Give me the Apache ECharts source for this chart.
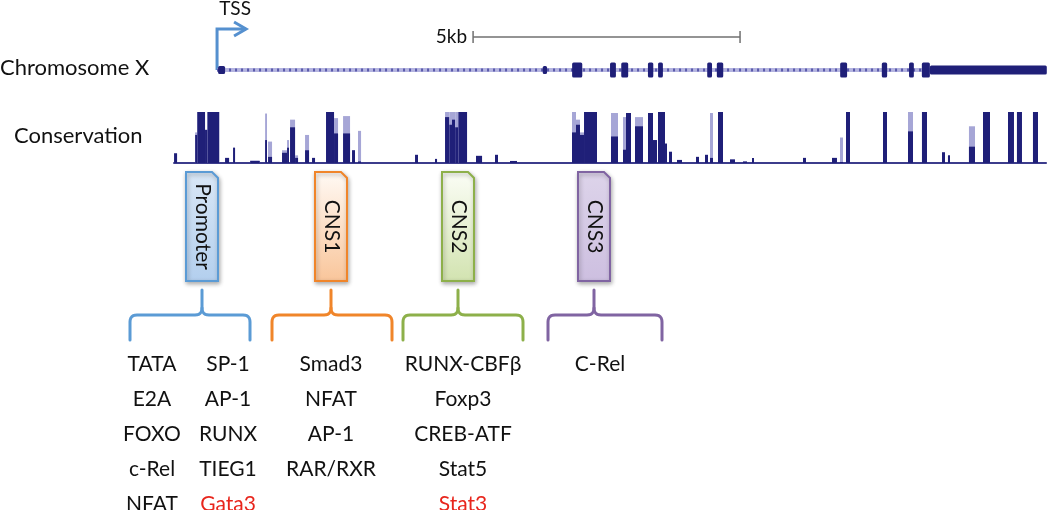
<!DOCTYPE html>
<html><head><meta charset="utf-8">
<script src="https://cdn.jsdelivr.net/npm/echarts@6/dist/echarts.min.js"></script>
<style>html,body{margin:0;padding:0;background:#fff}#c{width:1050px;height:510px}</style>
</head><body><div id="c"></div>
<script>
// ---------- DATA (genomic positions in kb relative to the TSS) ----------
const axisRangeKb = [-0.9, 15.6];
const tssKb = 0;
const tssLabel = 'TSS';
const scaleBarKb = [4.795, 9.795];
const scaleBarLabel = '5kb';
const trackLabels = ['Chromosome X', 'Conservation'];
const intronSpanKb = [0, 13.35];
// exons: [startKb, endKb, kind]
const exons = [
  [0.02, 0.15, 'nc'], [6.10, 6.18, 'nc'], [6.65, 6.84, 'cds'], [7.36, 7.47, 'cds'],
  [7.57, 7.70, 'cds'], [8.07, 8.17, 'cds'], [8.26, 8.35, 'cds'], [9.18, 9.27, 'cds'],
  [9.36, 9.48, 'cds'], [11.67, 11.80, 'cds'], [12.45, 12.55, 'cds'], [12.96, 13.05, 'cds'],
  [13.20, 13.35, 'cds'], [13.35, 15.54, 'utr']
];
// conservation: [startKb, endKb, meanScore, maxScore]
const conservationSpanKb = [-0.82, 15.54];
const conservation = [
  [-0.805, -0.749, 0.19, 0.19], [-0.41, -0.37, 0.55, 0.6], [-0.37, -0.225, 1, 1],
  [-0.225, -0.18, 0.65, 0.65], [-0.18, 0.04, 1, 1], [0.15, 0.225, 0.1, 0.1],
  [0.30, 0.337, 0.3, 0.3], [0.62, 0.80, 0.04, 0.05], [0.90, 0.936, 0.45, 0.97],
  [0.955, 1.03, 0.12, 0.42], [1.217, 1.311, 0.2, 0.25], [1.311, 1.348, 0.3, 0.45],
  [1.367, 1.461, 0.7, 0.85], [1.461, 1.517, 0.1, 0.15], [1.648, 1.723, 0.25, 0.55],
  [1.779, 1.835, 0.1, 0.1], [2.041, 2.191, 1, 1], [2.191, 2.266, 0.58, 0.88],
  [2.36, 2.491, 0.58, 0.92], [2.528, 2.584, 0.25, 0.25], [2.64, 2.697, 0.03, 0.63],
  [3.708, 3.764, 0.16, 0.16], [4.082, 4.12, 0.08, 0.08],
  [4.27, 4.35, 0.9, 1], [4.35, 4.40, 0.75, 1], [4.40, 4.46, 0.85, 1], [4.46, 4.52, 0.7, 1], [4.52, 4.682, 1, 1],
  [4.85, 4.963, 0.14, 0.14], [5.206, 5.262, 0.16, 0.16], [5.487, 5.618, 0.04, 0.04],
  [6.648, 6.723, 0.6, 1], [6.723, 6.798, 0.75, 0.85], [6.798, 6.873, 0.55, 0.6], [6.873, 7.116, 1, 1],
  [7.378, 7.509, 0.52, 0.98], [7.603, 7.659, 0.26, 0.9], [7.659, 7.753, 0.98, 0.98],
  [7.828, 7.978, 0.72, 0.9], [8.071, 8.165, 0.98, 0.98], [8.165, 8.240, 0.45, 0.45],
  [8.258, 8.390, 1, 1], [8.390, 8.427, 0.38, 0.38], [8.464, 8.521, 0.22, 0.22],
  [8.614, 8.708, 0.06, 0.06], [8.970, 9.026, 0.12, 0.12], [9.139, 9.195, 0.16, 0.16],
  [9.232, 9.288, 0.1, 0.98], [9.382, 9.476, 1, 1], [9.607, 9.700, 0.07, 0.07],
  [9.850, 9.925, 0.03, 0.03], [10.019, 10.056, 0.1, 0.1], [10.974, 11.030, 0.1, 0.1],
  [11.517, 11.610, 0.1, 0.1], [11.667, 11.723, 0.02, 0.5], [11.779, 11.854, 1, 1],
  [12.472, 12.547, 1, 1], [12.940, 13.034, 0.62, 1], [13.202, 13.296, 1, 1],
  [13.577, 13.633, 0.21, 0.21], [13.689, 13.727, 0.15, 0.15], [14.082, 14.195, 0.32, 0.72],
  [14.345, 14.476, 1, 1], [14.813, 14.925, 1, 1], [14.981, 15.075, 1, 1], [15.281, 15.375, 1, 1]
];
// regulatory regions
const regionNames = ['Promoter', 'CNS1', 'CNS2', 'CNS3'];
const regionCentersKb = [-0.28, 2.14, 4.51, 7.06];
const promoterFactorsA = ['TATA', 'E2A', 'FOXO', 'c-Rel', 'NFAT'];
const promoterFactorsB = ['SP-1', 'AP-1', 'RUNX', 'TIEG1', 'Gata3'];
const cns1Factors = ['Smad3', 'NFAT', 'AP-1', 'RAR/RXR'];
const cns2Factors = ['RUNX-CBFβ', 'Foxp3', 'CREB-ATF', 'Stat5', 'Stat3'];
const cns3Factors = ['C-Rel'];
const highlightedFactors = ['Gata3', 'Stat3'];

// ---------- STYLE / LAYOUT ----------
const FONT = 'Lato, "Open Sans", sans-serif';
const NAVY = '#1f1f78', LIGHT = '#a6a6d6';
const regionStyles = [
  { border: '#5b9bd5', top: '#d9e7f6', bottom: '#b3cfee', cols: [{ list: promoterFactorsA, dx: -50 }, { list: promoterFactorsB, dx: 26 }], bdx: -12, hw: 60 },
  { border: '#f0852a', top: '#fffaf5', bottom: '#f9c59a', cols: [{ list: cns1Factors, dx: 0 }], bdx: 1, hw: 60 },
  { border: '#8db04a', top: '#fbfdf6', bottom: '#d2e3b0', cols: [{ list: cns2Factors, dx: 5 }], bdx: 5, hw: 60 },
  { border: '#8064a2', top: '#ddd4ea', bottom: '#cdbfe0', cols: [{ list: cns3Factors, dx: 6 }], bdx: 11, hw: 57 }
];
const exonHalf = { nc: 0.27, cds: 0.5, utr: 0.3 };

function quad(p0, p1, p2, n) {
  const pts = [];
  for (let i = 1; i <= n; i++) {
    const t = i / n, u = 1 - t;
    pts.push([u * u * p0[0] + 2 * u * t * p1[0] + t * t * p2[0], u * u * p0[1] + 2 * u * t * p1[1] + t * t * p2[1]]);
  }
  return pts;
}
const centered = { align: 'center', verticalAlign: 'middle', textAlign: 'center', textVerticalAlign: 'middle' };

const chart = echarts.init(document.getElementById('c'), null, { renderer: 'canvas' });
const xAx = i => ({ type: 'value', gridIndex: i, min: axisRangeKb[0], max: axisRangeKb[1], show: false });
const option = {
  animation: false,
  backgroundColor: '#fff',
  grid: [
    { left: 169, right: 0, top: 55, height: 30 },
    { left: 169, right: 0, top: 112, height: 51 },
    { left: 169, right: 0, top: 165, bottom: 0 }
  ],
  xAxis: [xAx(0), xAx(1), xAx(2)],
  yAxis: [
    { type: 'value', gridIndex: 0, min: -1, max: 1, show: false },
    { type: 'value', gridIndex: 1, min: 0, max: 1, show: false },
    { type: 'value', gridIndex: 2, min: 0, max: 1, show: false }
  ],
  graphic: [
    { type: 'text', left: 0, top: 57, style: { text: trackLabels[0], font: '22px ' + FONT, fill: '#111' } },
    { type: 'text', left: 14, top: 125, style: { text: trackLabels[1], font: '22px ' + FONT, fill: '#111' } }
  ],
  series: [
    { type: 'line', xAxisIndex: 0, yAxisIndex: 0, symbol: 'none', silent: true,
      data: [[intronSpanKb[0], 0], [intronSpanKb[1], 0]], lineStyle: { color: '#b4b4e0', width: 4 } },
    { type: 'line', xAxisIndex: 0, yAxisIndex: 0, symbol: 'none', silent: true,
      data: [[intronSpanKb[0], 0], [intronSpanKb[1], 0]], lineStyle: { color: '#5a5aaa', width: 3, type: [2, 4] } },
    { type: 'custom', xAxisIndex: 0, yAxisIndex: 0, data: exons, silent: true, z: 4,
      renderItem: (params, api) => {
        const h = exonHalf[exons[params.dataIndex][2]];
        const a = api.coord([api.value(0), h]), b = api.coord([api.value(1), -h]);
        return { type: 'rect', shape: { x: a[0], y: a[1], width: Math.max(b[0] - a[0], 2), height: b[1] - a[1], r: 1.5 }, style: { fill: NAVY } };
      } },
    { type: 'custom', xAxisIndex: 0, yAxisIndex: 0, data: [[tssKb]], silent: true,
      renderItem: (params, api) => {
        const p = api.coord([api.value(0), 0]);
        const x = p[0];
        return { type: 'group', children: [
          { type: 'polyline', shape: { points: [[x, p[1]], [x, 29], [x + 29, 29]] }, style: { stroke: '#5590cf', lineWidth: 3, fill: null } },
          { type: 'polyline', shape: { points: [[x + 17, 22], [x + 29, 29], [x + 17, 36]] }, style: { stroke: '#5590cf', lineWidth: 3, fill: null } },
          { type: 'text', x: x + 18, y: 9, style: Object.assign({ text: tssLabel, font: '19px ' + FONT, fill: '#111' }, centered) }
        ] };
      } },
    { type: 'custom', xAxisIndex: 0, yAxisIndex: 0, data: [scaleBarKb], silent: true,
      renderItem: (params, api) => {
        const a = api.coord([api.value(0), 0])[0], b = api.coord([api.value(1), 0])[0];
        const y = 37;
        const st = { stroke: '#707070', lineWidth: 1.5 };
        return { type: 'group', children: [
          { type: 'line', shape: { x1: a, y1: y, x2: b, y2: y }, style: st },
          { type: 'line', shape: { x1: a, y1: y - 6, x2: a, y2: y + 6 }, style: st },
          { type: 'line', shape: { x1: b, y1: y - 6, x2: b, y2: y + 6 }, style: st },
          { type: 'text', x: a - 6, y: y, style: { text: scaleBarLabel, font: '19px ' + FONT, fill: '#111', align: 'right', verticalAlign: 'middle', textAlign: 'right', textVerticalAlign: 'middle' } }
        ] };
      } },
    { type: 'line', xAxisIndex: 1, yAxisIndex: 1, symbol: 'none', silent: true, z: 1,
      data: [[conservationSpanKb[0], 0], [conservationSpanKb[1], 0]], lineStyle: { color: '#3c3c8c', width: 2 } },
    { type: 'custom', xAxisIndex: 1, yAxisIndex: 1, data: conservation, silent: true, z: 3,
      renderItem: (params, api) => {
        const s = api.value(0), e = api.value(1);
        const b0 = api.coord([s, 0]), b1 = api.coord([e, 0]);
        const m = api.coord([s, api.value(2)]), x = api.coord([s, api.value(3)]);
        const w = Math.max(b1[0] - b0[0], 1.5);
        return { type: 'group', children: [
          { type: 'rect', shape: { x: b0[0], y: x[1], width: w, height: b0[1] - x[1] }, style: { fill: LIGHT } },
          { type: 'rect', shape: { x: b0[0], y: m[1], width: w, height: b0[1] - m[1] }, style: { fill: NAVY } }
        ] };
      } },
    { type: 'custom', xAxisIndex: 2, yAxisIndex: 2, data: regionCentersKb.map((v, i) => [v, i]), silent: true,
      renderItem: (params, api) => {
        const i = params.dataIndex;
        const st = regionStyles[i];
        const cx = Math.round(api.coord([api.value(0), 0])[0]);
        const L = cx - 16, R = cx + 16, T = 172, B = 281;
        const kids = [];
        kids.push({ type: 'polygon', shape: { points: [[L, T], [R - 6, T], [R, T + 6], [R, B], [L, B]] },
          style: { fill: new echarts.graphic.LinearGradient(0, 0, 0, 1, [{ offset: 0, color: st.top }, { offset: 1, color: st.bottom }]),
            stroke: st.border, lineWidth: 2, shadowBlur: 4, shadowColor: 'rgba(0,0,0,0.3)', shadowOffsetX: 1, shadowOffsetY: 2 } });
        kids.push({ type: 'text', x: cx + 1, y: (T + B) / 2, rotation: -Math.PI / 2,
          style: Object.assign({ text: regionNames[i], font: '21px ' + FONT, fill: '#111' }, centered) });
        const bx = cx + st.bdx, Lb = bx - st.hw, Rb = bx + st.hw;
        const yS = 290, yH = 315, yE = 340, r = 7;
        const left = [[Lb, yE], [Lb, yH + r]].concat(quad([Lb, yH + r], [Lb, yH], [Lb + r, yH], 6))
          .concat([[cx - r, yH]]).concat(quad([cx - r, yH], [cx, yH], [cx, yH - r], 6)).concat([[cx, yS]]);
        const right = [[cx, yH - r]].concat(quad([cx, yH - r], [cx, yH], [cx + r, yH], 6))
          .concat([[Rb - r, yH]]).concat(quad([Rb - r, yH], [Rb, yH], [Rb, yH + r], 6)).concat([[Rb, yE]]);
        const bs = { stroke: st.border, lineWidth: 3, fill: null, lineJoin: 'round', lineCap: 'round' };
        kids.push({ type: 'polyline', shape: { points: left }, style: bs });
        kids.push({ type: 'polyline', shape: { points: right }, style: bs });
        st.cols.forEach(col => {
          col.list.forEach((name, k) => {
            kids.push({ type: 'text', x: cx + col.dx, y: 364 + 35 * k,
              style: Object.assign({ text: name, font: '21px ' + FONT, fill: highlightedFactors.includes(name) ? '#e8251c' : '#111' }, centered) });
          });
        });
        return { type: 'group', children: kids };
      } }
  ]
};
chart.setOption(option);
</script></body></html>
